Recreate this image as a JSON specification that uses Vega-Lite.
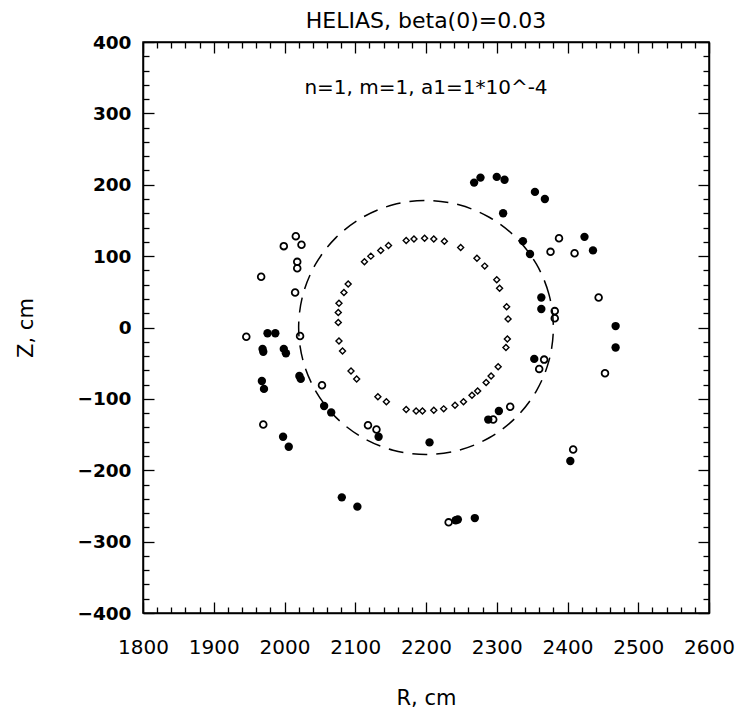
{
  "$schema": "https://vega.github.io/schema/vega-lite/v6.json",
  "width": 566,
  "height": 571,
  "autosize": "none",
  "padding": {"left": 143, "top": 42, "right": 32, "bottom": 99},
  "background": "white",
  "config": {"view": {"stroke": "black", "strokeWidth": 1.5}, "font": "DejaVu Sans"},
  "title": {"text": "HELIAS, beta(0)=0.03", "font": "DejaVu Sans", "fontSize": 22, "fontWeight": "normal", "color": "black", "anchor": "middle", "offset": 11, "baseline": "alphabetic", "dy": 28},
  "datasets": {
    "circle": [
      {"i": 0, "R": 2380, "Z": 0}, {"i": 1, "R": 2373.9, "Z": 46.1}, {"i": 2, "R": 2355.9, "Z": 89}, {"i": 3, "R": 2327.3, "Z": 125.9},
      {"i": 4, "R": 2290, "Z": 154.1}, {"i": 5, "R": 2246.6, "Z": 171.9}, {"i": 6, "R": 2200, "Z": 178}, {"i": 7, "R": 2153.4, "Z": 171.9},
      {"i": 8, "R": 2110, "Z": 154.1}, {"i": 9, "R": 2072.7, "Z": 125.9}, {"i": 10, "R": 2044.1, "Z": 89}, {"i": 11, "R": 2026.1, "Z": 46.1},
      {"i": 12, "R": 2020, "Z": 0}, {"i": 13, "R": 2026.1, "Z": -46.1}, {"i": 14, "R": 2044.1, "Z": -89}, {"i": 15, "R": 2072.7, "Z": -125.9},
      {"i": 16, "R": 2110, "Z": -154.1}, {"i": 17, "R": 2153.4, "Z": -171.9}, {"i": 18, "R": 2200, "Z": -178}, {"i": 19, "R": 2246.6, "Z": -171.9},
      {"i": 20, "R": 2290, "Z": -154.1}, {"i": 21, "R": 2327.3, "Z": -125.9}, {"i": 22, "R": 2355.9, "Z": -89}, {"i": 23, "R": 2373.9, "Z": -46.1}
    ],
    "pts": [
      {"R": 2268, "Z": 203, "type": "filled"}, {"R": 2277, "Z": 210, "type": "filled"}, {"R": 2300, "Z": 211, "type": "filled"},
      {"R": 2311, "Z": 207, "type": "filled"}, {"R": 2354, "Z": 190, "type": "filled"}, {"R": 2368, "Z": 180, "type": "filled"},
      {"R": 2309, "Z": 160, "type": "filled"}, {"R": 2337, "Z": 121, "type": "filled"}, {"R": 2347, "Z": 103, "type": "filled"},
      {"R": 2424, "Z": 127, "type": "filled"}, {"R": 2436, "Z": 108, "type": "filled"}, {"R": 2363, "Z": 42, "type": "filled"},
      {"R": 2363, "Z": 26, "type": "filled"}, {"R": 2468, "Z": 2, "type": "filled"}, {"R": 2468, "Z": -28, "type": "filled"},
      {"R": 1976, "Z": -8, "type": "filled"}, {"R": 1987, "Z": -8, "type": "filled"}, {"R": 1969, "Z": -30, "type": "filled"},
      {"R": 1970, "Z": -34, "type": "filled"}, {"R": 1999, "Z": -30, "type": "filled"}, {"R": 2002, "Z": -36, "type": "filled"},
      {"R": 1968, "Z": -75, "type": "filled"}, {"R": 1971, "Z": -86, "type": "filled"}, {"R": 2021, "Z": -68, "type": "filled"},
      {"R": 2023, "Z": -72, "type": "filled"}, {"R": 2056, "Z": -110, "type": "filled"}, {"R": 2066, "Z": -119, "type": "filled"},
      {"R": 1998, "Z": -153, "type": "filled"}, {"R": 2006, "Z": -167, "type": "filled"}, {"R": 2133, "Z": -153, "type": "filled"},
      {"R": 2205, "Z": -161, "type": "filled"}, {"R": 2288, "Z": -129, "type": "filled"}, {"R": 2303, "Z": -117, "type": "filled"},
      {"R": 2353, "Z": -44, "type": "filled"}, {"R": 2404, "Z": -187, "type": "filled"}, {"R": 2081, "Z": -238, "type": "filled"},
      {"R": 2103, "Z": -251, "type": "filled"}, {"R": 2242, "Z": -270, "type": "filled"}, {"R": 2245, "Z": -269, "type": "filled"},
      {"R": 2269, "Z": -267, "type": "filled"},
      {"R": 2016, "Z": 128, "type": "open"}, {"R": 2024, "Z": 116, "type": "open"}, {"R": 1999, "Z": 114, "type": "open"},
      {"R": 2018, "Z": 92, "type": "open"}, {"R": 2018, "Z": 83, "type": "open"}, {"R": 1967, "Z": 71, "type": "open"},
      {"R": 2015, "Z": 49, "type": "open"}, {"R": 2388, "Z": 125, "type": "open"}, {"R": 2376, "Z": 106, "type": "open"},
      {"R": 2410, "Z": 104, "type": "open"}, {"R": 2444, "Z": 42, "type": "open"}, {"R": 2382, "Z": 23, "type": "open"},
      {"R": 2382, "Z": 13, "type": "open"}, {"R": 1946, "Z": -13, "type": "open"}, {"R": 2022, "Z": -12, "type": "open"},
      {"R": 2053, "Z": -81, "type": "open"}, {"R": 1970, "Z": -136, "type": "open"}, {"R": 2118, "Z": -137, "type": "open"},
      {"R": 2130, "Z": -143, "type": "open"}, {"R": 2232, "Z": -273, "type": "open"}, {"R": 2367, "Z": -45, "type": "open"},
      {"R": 2360, "Z": -58, "type": "open"}, {"R": 2295, "Z": -129, "type": "open"}, {"R": 2319, "Z": -111, "type": "open"},
      {"R": 2453, "Z": -64, "type": "open"}, {"R": 2408, "Z": -171, "type": "open"},
      {"R": 2172, "Z": 122, "type": "diamond"}, {"R": 2183, "Z": 124, "type": "diamond"}, {"R": 2198, "Z": 125, "type": "diamond"},
      {"R": 2211, "Z": 124, "type": "diamond"}, {"R": 2226, "Z": 121, "type": "diamond"}, {"R": 2249, "Z": 112, "type": "diamond"},
      {"R": 2272, "Z": 97, "type": "diamond"}, {"R": 2283, "Z": 86, "type": "diamond"}, {"R": 2300, "Z": 67, "type": "diamond"},
      {"R": 2304, "Z": 55, "type": "diamond"}, {"R": 2314, "Z": 29, "type": "diamond"}, {"R": 2316, "Z": 12, "type": "diamond"},
      {"R": 2147, "Z": 115, "type": "diamond"}, {"R": 2136, "Z": 108, "type": "diamond"}, {"R": 2122, "Z": 100, "type": "diamond"},
      {"R": 2113, "Z": 92, "type": "diamond"}, {"R": 2090, "Z": 61, "type": "diamond"}, {"R": 2084, "Z": 49, "type": "diamond"},
      {"R": 2077, "Z": 34, "type": "diamond"}, {"R": 2076, "Z": 21, "type": "diamond"}, {"R": 2076, "Z": 7, "type": "diamond"},
      {"R": 2077, "Z": -19, "type": "diamond"}, {"R": 2082, "Z": -33, "type": "diamond"}, {"R": 2094, "Z": -61, "type": "diamond"},
      {"R": 2102, "Z": -72, "type": "diamond"}, {"R": 2132, "Z": -97, "type": "diamond"}, {"R": 2144, "Z": -104, "type": "diamond"},
      {"R": 2172, "Z": -115, "type": "diamond"}, {"R": 2186, "Z": -117, "type": "diamond"}, {"R": 2195, "Z": -117, "type": "diamond"},
      {"R": 2211, "Z": -116, "type": "diamond"}, {"R": 2225, "Z": -114, "type": "diamond"}, {"R": 2241, "Z": -109, "type": "diamond"},
      {"R": 2253, "Z": -104, "type": "diamond"}, {"R": 2265, "Z": -95, "type": "diamond"}, {"R": 2273, "Z": -89, "type": "diamond"},
      {"R": 2285, "Z": -77, "type": "diamond"}, {"R": 2292, "Z": -68, "type": "diamond"}, {"R": 2302, "Z": -55, "type": "diamond"},
      {"R": 2313, "Z": -28, "type": "diamond"}, {"R": 2315, "Z": -16, "type": "diamond"}
    ],
    "note": [{"label": "n=1, m=1, a1=1*10^-4", "R": 2200, "Z": 327}]
  },
  "layer": [
    {
      "data": {"name": "circle"},
      "mark": {"type": "line", "interpolate": "cardinal-closed", "color": "black", "strokeWidth": 1.5, "strokeDash": [15, 9]},
      "encoding": {
        "x": {"field": "R", "type": "quantitative", "scale": {"domain": [1800, 2600], "nice": false, "zero": false},
          "axis": {"orient": "bottom", "title": "R, cm", "values": [1800,1820,1840,1860,1880,1900,1920,1940,1960,1980,2000,2020,2040,2060,2080,2100,2120,2140,2160,2180,2200,2220,2240,2260,2280,2300,2320,2340,2360,2380,2400,2420,2440,2460,2480,2500,2520,2540,2560,2580,2600],
            "format": "d", "labelExpr": "datum.value % 100 === 0 ? datum.label : ''", "labelOverlap": false, "labelFlush": false,
            "labelFont": "DejaVu Sans", "labelFontSize": 20, "labelColor": "black", "labelPadding": 35,
            "tickColor": "black", "tickWidth": 1.3, "tickSize": {"condition": {"test": "datum.value % 100 === 0", "value": -11}, "value": -6},
            "domainColor": "black", "domainWidth": 1.5, "grid": false,
            "titleFont": "DejaVu Sans", "titleFontSize": 21, "titleFontWeight": "normal", "titleColor": "black", "titlePadding": 25}},
        "y": {"field": "Z", "type": "quantitative", "scale": {"domain": [-400, 400], "nice": false, "zero": false},
          "axis": {"orient": "left", "title": "Z, cm", "values": [-400,-380,-360,-340,-320,-300,-280,-260,-240,-220,-200,-180,-160,-140,-120,-100,-80,-60,-40,-20,0,20,40,60,80,100,120,140,160,180,200,220,240,260,280,300,320,340,360,380,400],
            "format": "d", "labelExpr": "datum.value % 100 === 0 ? datum.label : ''", "labelOverlap": false, "labelFlush": false,
            "labelFont": "DejaVu Sans", "labelFontSize": 18.5, "labelFontWeight": "bold", "labelColor": "black", "labelPadding": 23,
            "tickColor": "black", "tickWidth": 1.3, "tickSize": {"condition": {"test": "datum.value % 100 === 0", "value": -11}, "value": -6},
            "domainColor": "black", "domainWidth": 1.5, "grid": false,
            "titleFont": "DejaVu Sans", "titleFontSize": 21, "titleFontWeight": "normal", "titleColor": "black", "titlePadding": 40}},
        "order": {"field": "i", "type": "quantitative"}
      }
    },
    {
      "data": {"name": "pts"},
      "transform": [{"filter": "datum.type === 'diamond'"}],
      "mark": {"type": "point", "shape": "diamond", "filled": false, "color": "black", "strokeWidth": 1.4, "size": 36, "opacity": 1},
      "encoding": {
        "x": {"field": "R", "type": "quantitative",
          "axis": {"orient": "top", "title": null, "labels": false, "values": [1800,1820,1840,1860,1880,1900,1920,1940,1960,1980,2000,2020,2040,2060,2080,2100,2120,2140,2160,2180,2200,2220,2240,2260,2280,2300,2320,2340,2360,2380,2400,2420,2440,2460,2480,2500,2520,2540,2560,2580,2600],
            "tickColor": "black", "tickWidth": 1.3, "tickSize": {"condition": {"test": "datum.value % 100 === 0", "value": -11}, "value": -6},
            "domainColor": "black", "domainWidth": 1.5, "grid": false}},
        "y": {"field": "Z", "type": "quantitative",
          "axis": {"orient": "right", "title": null, "labels": false, "values": [-400,-380,-360,-340,-320,-300,-280,-260,-240,-220,-200,-180,-160,-140,-120,-100,-80,-60,-40,-20,0,20,40,60,80,100,120,140,160,180,200,220,240,260,280,300,320,340,360,380,400],
            "tickColor": "black", "tickWidth": 1.3, "tickSize": {"condition": {"test": "datum.value % 100 === 0", "value": -11}, "value": -6},
            "domainColor": "black", "domainWidth": 1.5, "grid": false}}
      }
    },
    {
      "data": {"name": "pts"},
      "transform": [{"filter": "datum.type === 'open'"}],
      "mark": {"type": "point", "shape": "circle", "filled": false, "color": "black", "strokeWidth": 1.8, "size": 45, "opacity": 1},
      "encoding": {
        "x": {"field": "R", "type": "quantitative", "axis": null},
        "y": {"field": "Z", "type": "quantitative", "axis": null}
      }
    },
    {
      "data": {"name": "pts"},
      "transform": [{"filter": "datum.type === 'filled'"}],
      "mark": {"type": "point", "shape": "circle", "filled": true, "color": "black", "size": 70, "opacity": 1},
      "encoding": {
        "x": {"field": "R", "type": "quantitative", "axis": null},
        "y": {"field": "Z", "type": "quantitative", "axis": null}
      }
    },
    {
      "data": {"name": "note"},
      "mark": {"type": "text", "font": "DejaVu Sans", "fontSize": 20, "color": "black", "align": "center", "baseline": "alphabetic"},
      "encoding": {
        "x": {"field": "R", "type": "quantitative", "axis": null},
        "y": {"field": "Z", "type": "quantitative", "axis": null},
        "text": {"field": "label", "type": "nominal"}
      }
    }
  ],
  "resolve": {"axis": {"x": "independent", "y": "independent"}}
}
